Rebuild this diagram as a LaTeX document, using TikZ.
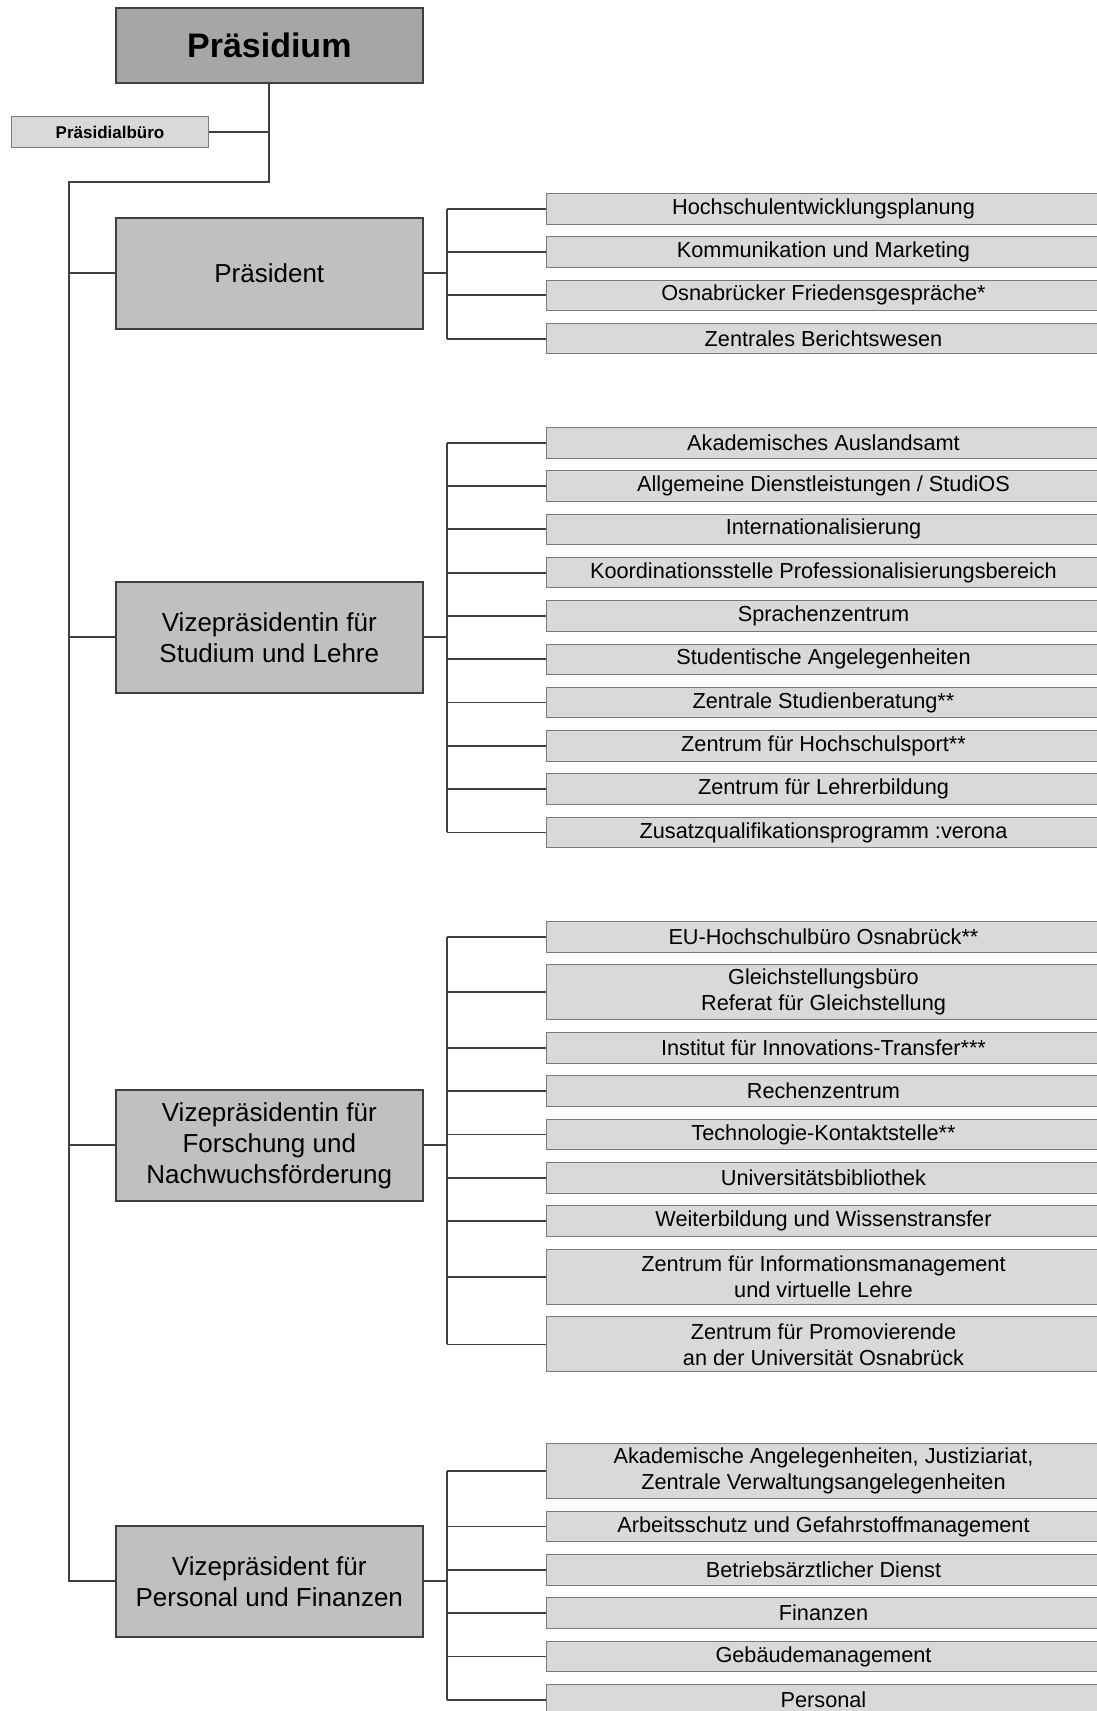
\documentclass[tikz,border=0pt]{standalone}
\usepackage{fontspec}
\setmainfont{Liberation Sans}
\usetikzlibrary{positioning}
\definecolor{linie}{HTML}{404040}
\definecolor{dunkel}{HTML}{A6A6A6}
\definecolor{mittel}{HTML}{C0C0C0}
\definecolor{hell}{HTML}{D9D9D9}
\definecolor{rand}{HTML}{7A7A7A}

\begin{document}
\begin{tikzpicture}[%
		x=1pt, y=-1pt,
		node distance=11.8pt,
		verbindung/.style={draw=linie, line width=1.8pt},
		leitung/.style={%
			draw=linie, line width=1.6pt, fill=dunkel,
			minimum width=307pt, minimum height=75pt, inner sep=0pt,
			font=\bfseries\fontsize{34}{40}\selectfont
		},
		buero/.style={%
			draw=rand, line width=1pt, fill=hell,
			minimum width=197pt, minimum height=31pt, inner sep=0pt,
			font=\bfseries\fontsize{17}{20}\selectfont
		},
		vize/.style={%
			draw=linie, line width=1.6pt, fill=mittel,
			minimum width=307pt, minimum height=111pt, inner sep=0pt,
			align=center, font=\fontsize{26}{31}\selectfont
		},
		einheit/.style={%
			draw=rand, line width=1pt, fill=hell,
			minimum width=554pt, minimum height=30.5pt, inner sep=0pt,
			align=center, font=\fontsize{21.7}{26}\selectfont
		},
		zweizeilig/.style={einheit, minimum height=55pt}
		]
		\useasboundingbox (0,0) rectangle (1096,1711);

		% Leitung
		\node[leitung, anchor=north west] (praesidium) at (115,7)   {Präsidium};
		\node[buero, anchor=north west]   (buero)      at (11,116)  {Präsidialbüro};

		\node[vize, anchor=north west] (vp1) at (115,217)  {Präsident};
		\node[vize, anchor=north west] (vp2) at (115,581)  {Vizepräsidentin für\\Studium und Lehre};
		\node[vize, anchor=north west] (vp3) at (115,1089) {Vizepräsidentin für\\Forschung und\\Nachwuchsförderung};
		\node[vize, anchor=north west] (vp4) at (115,1525) {Vizepräsident für\\Personal und Finanzen};

		% Präsident
		\node[einheit, anchor=north west] (p1) at (546,193) {Hochschulentwicklungsplanung};
		\node[einheit] (p2) [below=of p1] {Kommunikation und Marketing};
		\node[einheit] (p3) [below=of p2] {Osnabrücker Friedensgespräche*};
		\node[einheit] (p4) [below=of p3] {Zentrales Berichtswesen};

		% Studium und Lehre
		\node[einheit, anchor=north west] (s1) at (546,427) {Akademisches Auslandsamt};
		\node[einheit] (s2)  [below=of s1] {Allgemeine Dienstleistungen / StudiOS};
		\node[einheit] (s3)  [below=of s2] {Internationalisierung};
		\node[einheit] (s4)  [below=of s3] {Koordinationsstelle Professionalisierungsbereich};
		\node[einheit] (s5)  [below=of s4] {Sprachenzentrum};
		\node[einheit] (s6)  [below=of s5] {Studentische Angelegenheiten};
		\node[einheit] (s7)  [below=of s6] {Zentrale Studienberatung**};
		\node[einheit] (s8)  [below=of s7] {Zentrum für Hochschulsport**};
		\node[einheit] (s9)  [below=of s8] {Zentrum für Lehrerbildung};
		\node[einheit] (s10) [below=of s9] {Zusatzqualifikationsprogramm :verona};

		% Forschung und Nachwuchsförderung
		\node[einheit, anchor=north west] (f1) at (546,921) {EU-Hochschulbüro Osnabrück**};
		\node[zweizeilig] (f2) [below=of f1] {Gleichstellungsbüro\\Referat für Gleichstellung};
		\node[einheit]    (f3) [below=of f2] {Institut für Innovations-Transfer***};
		\node[einheit]    (f4) [below=of f3] {Rechenzentrum};
		\node[einheit]    (f5) [below=of f4] {Technologie-Kontaktstelle**};
		\node[einheit]    (f6) [below=of f5] {Universitätsbibliothek};
		\node[einheit]    (f7) [below=of f6] {Weiterbildung und Wissenstransfer};
		\node[zweizeilig] (f8) [below=of f7] {Zentrum für Informationsmanagement\\und virtuelle Lehre};
		\node[zweizeilig] (f9) [below=of f8] {Zentrum für Promovierende\\an der Universität Osnabrück};

		% Personal und Finanzen
		\node[zweizeilig, anchor=north west] (w1) at (546,1443) {Akademische Angelegenheiten, Justiziariat,\\Zentrale Verwaltungsangelegenheiten};
		\node[einheit] (w2) [below=of w1] {Arbeitsschutz und Gefahrstoffmanagement};
		\node[einheit] (w3) [below=of w2] {Betriebsärztlicher Dienst};
		\node[einheit] (w4) [below=of w3] {Finanzen};
		\node[einheit] (w5) [below=of w4] {Gebäudemanagement};
		\node[einheit] (w6) [below=of w5] {Personal};

		% Verbindungen
		\coordinate (spine) at (69,182);
		\draw[verbindung] (praesidium.south) |- (spine) |- (vp4.west);
		\draw[verbindung] (buero.east) -- (buero.east -| praesidium.south);
		\foreach \v in {vp1,vp2,vp3}
			\draw[verbindung] (spine |- \v.west) -- (\v.west);

		\draw[verbindung] (vp1.east) -- ++(23,0) coordinate (a1);
		\draw[verbindung] (a1 |- p1.west) -- (a1 |- p4.west);
		\foreach \c in {p1,p2,p3,p4}
			\draw[verbindung] (a1 |- \c.west) -- (\c.west);

		\draw[verbindung] (vp2.east) -- ++(23,0) coordinate (a2);
		\draw[verbindung] (a2 |- s1.west) -- (a2 |- s10.west);
		\foreach \c in {s1,s2,s3,s4,s5,s6,s7,s8,s9,s10}
			\draw[verbindung] (a2 |- \c.west) -- (\c.west);

		\draw[verbindung] (vp3.east) -- ++(23,0) coordinate (a3);
		\draw[verbindung] (a3 |- f1.west) -- (a3 |- f9.west);
		\foreach \c in {f1,f2,f3,f4,f5,f6,f7,f8,f9}
			\draw[verbindung] (a3 |- \c.west) -- (\c.west);

		\draw[verbindung] (vp4.east) -- ++(23,0) coordinate (a4);
		\draw[verbindung] (a4 |- w1.west) -- (a4 |- w6.west);
		\foreach \c in {w1,w2,w3,w4,w5,w6}
			\draw[verbindung] (a4 |- \c.west) -- (\c.west);
\end{tikzpicture}
\end{document}
